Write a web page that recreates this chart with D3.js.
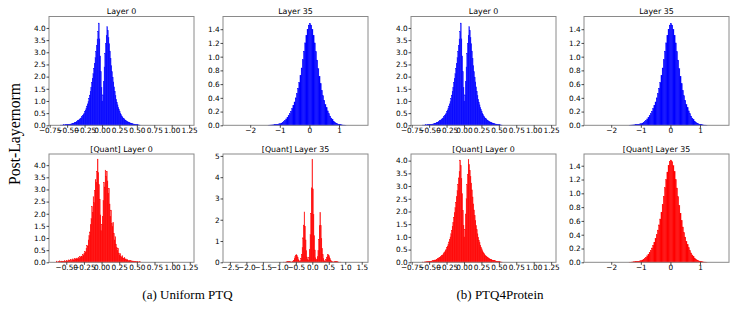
<!DOCTYPE html>
<html>
<head>
<meta charset="utf-8">
<title>Post-Layernorm histograms</title>
<script src="https://d3js.org/d3.v7.min.js"></script>
<style>
  body { margin: 0; background: #fff; }
  svg text { font-family: "DejaVu Sans", sans-serif; }
</style>
</head>
<body>
<svg width="747" height="309"></svg>
<script>

// histogram heights, one value per bin, bins start at *Start with width *Step
var fpLayer0Start = -0.60, fpLayer0Step = 0.01;
var fpLayer0 = [
  0.01, 0.00, 0.01, 0.01, 0.01, 0.02, 0.01, 0.02, 0.02, 0.03,
  0.02, 0.03, 0.04, 0.04, 0.05, 0.05, 0.06, 0.07, 0.08, 0.09,
  0.10, 0.12, 0.13, 0.15, 0.17, 0.19, 0.21, 0.23, 0.26, 0.29,
  0.32, 0.36, 0.40, 0.45, 0.50, 0.56, 0.63, 0.71, 0.79, 0.88,
  0.98, 1.10, 1.24, 1.40, 1.57, 1.75, 1.93, 2.12, 2.33, 2.55,
  2.78, 3.02, 3.28, 3.55, 3.85, 4.20, 3.55, 2.85, 2.20, 1.55,
  1.00, 1.25, 1.80, 2.40, 2.95, 3.35, 3.70, 4.05, 3.90, 3.60,
  3.35, 3.05, 2.75, 2.45, 2.20, 1.98, 1.78, 1.58, 1.40, 1.22,
  1.07, 0.95, 0.84, 0.74, 0.65, 0.57, 0.50, 0.44, 0.38, 0.34,
  0.30, 0.27, 0.24, 0.21, 0.19, 0.17, 0.15, 0.14, 0.13, 0.11,
  0.10, 0.09, 0.08, 0.07, 0.06, 0.05, 0.05, 0.04, 0.03, 0.03,
  0.02, 0.02, 0.01, 0.01, 0.01
];

var fpLayer35Start = -1.40, fpLayer35Step = 0.04;
var fpLayer35 = [
  0.002, 0.003, 0.004, 0.005, 0.006, 0.008, 0.010, 0.012, 0.015, 0.020,
  0.025, 0.033, 0.043, 0.056, 0.072, 0.092, 0.115, 0.140, 0.170, 0.205,
  0.245, 0.290, 0.340, 0.400, 0.465, 0.540, 0.625, 0.725, 0.835, 0.955,
  1.080, 1.200, 1.310, 1.400, 1.460, 1.485, 1.460, 1.400, 1.310, 1.200,
  1.075, 0.950, 0.825, 0.710, 0.605, 0.510, 0.430, 0.365, 0.305, 0.255,
  0.210, 0.170, 0.135, 0.105, 0.080, 0.060, 0.045, 0.033, 0.024, 0.017,
  0.012, 0.008, 0.006, 0.004, 0.003, 0.002
];

var uniformQ0Start = -0.65, uniformQ0Step = 0.01;
var uniformQ0 = [
  0.00, 0.05, 0.00, 0.00, 0.03, 0.06, 0.00, 0.02, 0.05, 0.03,
  0.04, 0.02, 0.07, 0.03, 0.05, 0.08, 0.04, 0.06, 0.10, 0.05,
  0.08, 0.12, 0.06, 0.10, 0.14, 0.09, 0.12, 0.16, 0.11, 0.15,
  0.18, 0.13, 0.20, 0.17, 0.24, 0.19, 0.26, 0.23, 0.32, 0.28,
  0.38, 0.45, 0.42, 0.58, 0.70, 0.66, 0.92, 1.10, 1.25, 1.55,
  1.80, 2.30, 2.05, 2.70, 2.45, 2.95, 3.40, 3.30, 3.75, 4.25,
  3.70, 3.20, 2.60, 1.95, 1.30, 1.55, 1.90, 2.55, 3.30, 3.10,
  3.80, 3.55, 3.75, 3.35, 2.85, 3.05, 2.40, 1.90, 2.15, 1.60,
  1.47, 1.65, 1.20, 0.92, 1.05, 0.75, 0.60, 0.50, 0.58, 0.38,
  0.30, 0.36, 0.25, 0.20, 0.27, 0.18, 0.15, 0.20, 0.12, 0.14,
  0.10, 0.12, 0.08, 0.06, 0.09, 0.05, 0.07, 0.04, 0.06, 0.03,
  0.05, 0.02, 0.04, 0.03, 0.02, 0.01, 0.03, 0.01, 0.00, 0.02
];

var uniformQ35Start = -0.91, uniformQ35Step = 0.02;
var uniformQ35 = [
  0.00, 0.00, 0.01, 0.00, 0.01, 0.01, 0.02, 0.03, 0.04, 0.05,
  0.04, 0.03, 0.02, 0.01, 0.02, 0.03, 0.06, 0.10, 0.18, 0.27,
  0.34, 0.37, 0.31, 0.22, 0.13, 0.07, 0.05, 0.08, 0.18, 0.38,
  0.70, 1.15, 1.75, 2.37, 1.70, 1.05, 0.55, 0.25, 0.12, 0.10,
  0.22, 0.60, 1.30, 2.30, 3.50, 4.85, 3.45, 2.25, 1.25, 0.58,
  0.21, 0.10, 0.12, 0.26, 0.56, 1.08, 1.72, 2.35, 1.72, 1.12,
  0.66, 0.36, 0.17, 0.08, 0.05, 0.07, 0.13, 0.22, 0.31, 0.37,
  0.33, 0.26, 0.17, 0.10, 0.06, 0.03, 0.02, 0.01, 0.02, 0.03,
  0.04, 0.05, 0.04, 0.03, 0.02, 0.01, 0.01, 0.00, 0.01, 0.00,
  0.00
];

var ptq4pQ0Start = -0.60, ptq4pQ0Step = 0.01;
var ptq4pQ0 = [
  0.01, 0.01, 0.00, 0.01, 0.02, 0.01, 0.02, 0.01, 0.02, 0.03,
  0.03, 0.03, 0.04, 0.05, 0.04, 0.06, 0.06, 0.07, 0.09, 0.09,
  0.11, 0.12, 0.14, 0.15, 0.18, 0.19, 0.22, 0.24, 0.27, 0.29,
  0.33, 0.37, 0.41, 0.46, 0.51, 0.57, 0.64, 0.72, 0.80, 0.90,
  1.00, 1.12, 1.26, 1.42, 1.58, 1.77, 1.95, 2.15, 2.36, 2.58,
  2.82, 3.06, 3.32, 3.58, 4.02, 3.80, 3.30, 2.70, 2.05, 1.45,
  1.00, 1.30, 1.90, 2.50, 3.05, 3.45, 4.05, 3.85, 3.62, 3.38,
  3.12, 2.85, 2.57, 2.30, 2.06, 1.84, 1.64, 1.45, 1.28, 1.12,
  0.99, 0.87, 0.77, 0.68, 0.60, 0.53, 0.46, 0.41, 0.36, 0.32,
  0.28, 0.25, 0.22, 0.20, 0.18, 0.16, 0.14, 0.13, 0.12, 0.10,
  0.09, 0.08, 0.08, 0.07, 0.06, 0.05, 0.04, 0.04, 0.03, 0.03,
  0.02, 0.02, 0.01, 0.01, 0.01
];

var ptq4pQ35Start = -1.40, ptq4pQ35Step = 0.04;
var ptq4pQ35 = [
  0.002, 0.002, 0.004, 0.005, 0.007, 0.008, 0.010, 0.013, 0.016, 0.020,
  0.026, 0.034, 0.044, 0.057, 0.073, 0.093, 0.117, 0.142, 0.172, 0.207,
  0.247, 0.292, 0.343, 0.402, 0.467, 0.542, 0.627, 0.727, 0.838, 0.957,
  1.082, 1.198, 1.308, 1.402, 1.462, 1.482, 1.458, 1.402, 1.312, 1.198,
  1.077, 0.952, 0.826, 0.712, 0.606, 0.512, 0.432, 0.366, 0.306, 0.256,
  0.211, 0.171, 0.136, 0.106, 0.081, 0.061, 0.046, 0.034, 0.025, 0.018,
  0.012, 0.009, 0.006, 0.004, 0.003, 0.002
];

// tick values
var layer0XTicks = [-0.75, -0.5, -0.25, 0, 0.25, 0.5, 0.75, 1, 1.25];
var quantLayer0XTicks = [-0.5, -0.25, 0, 0.25, 0.5, 0.75, 1, 1.25];
var layer35XTicks = [-2, -1, 0, 1];
var quantLayer35XTicks = [-2.5, -2, -1.5, -1, -0.5, 0, 0.5, 1, 1.5];
var layer0YTicks = [0, 0.5, 1, 1.5, 2, 2.5, 3, 3.5, 4];
var layer35YTicks = [0, 0.2, 0.4, 0.6, 0.8, 1, 1.2, 1.4];
var quantLayer35YTicks = [0, 1, 2, 3, 4, 5];

var captions = ["(a) Uniform PTQ", "(b) PTQ4Protein"];

var svg = d3.select("svg");

var topY = [16.5, 125.3], botY = [154, 262.3];

var panels = [
  {title: "Layer 0", start: fpLayer0Start, step: fpLayer0Step, values: fpLayer0, color: "#0000ff",
   x: [49, 194], y: topY, xd: [-0.76, 1.32], yd: [0, 4.47], xt: layer0XTicks, yt: layer0YTicks, xf: ".2f", yf: ".1f"},
  {title: "Layer 35", start: fpLayer35Start, step: fpLayer35Step, values: fpLayer35, color: "#0000ff",
   x: [223, 368], y: topY, xd: [-2.92, 1.98], yd: [0, 1.585], xt: layer35XTicks, yt: layer35YTicks, xf: "d", yf: ".1f"},
  {title: "[Quant] Layer 0", start: uniformQ0Start, step: uniformQ0Step, values: uniformQ0, color: "#ff0000",
   x: [49, 194], y: botY, xd: [-0.745, 1.31], yd: [0, 4.46], xt: quantLayer0XTicks, yt: layer0YTicks, xf: ".2f", yf: ".1f"},
  {title: "[Quant] Layer 35", start: uniformQ35Start, step: uniformQ35Step, values: uniformQ35, color: "#ff0000",
   x: [223, 368], y: botY, xd: [-2.71, 1.69], yd: [0, 5.09], xt: quantLayer35XTicks, yt: quantLayer35YTicks, xf: ".1f", yf: "d"},
  {title: "Layer 0", start: fpLayer0Start, step: fpLayer0Step, values: fpLayer0, color: "#0000ff",
   x: [411, 556], y: topY, xd: [-0.76, 1.32], yd: [0, 4.47], xt: layer0XTicks, yt: layer0YTicks, xf: ".2f", yf: ".1f"},
  {title: "Layer 35", start: fpLayer35Start, step: fpLayer35Step, values: fpLayer35, color: "#0000ff",
   x: [584, 729], y: topY, xd: [-2.92, 1.98], yd: [0, 1.585], xt: layer35XTicks, yt: layer35YTicks, xf: "d", yf: ".1f"},
  {title: "[Quant] Layer 0", start: ptq4pQ0Start, step: ptq4pQ0Step, values: ptq4pQ0, color: "#ff0000",
   x: [411, 556], y: botY, xd: [-0.76, 1.32], yd: [0, 4.26], xt: layer0XTicks, yt: layer0YTicks, xf: ".2f", yf: ".1f"},
  {title: "[Quant] Layer 35", start: ptq4pQ35Start, step: ptq4pQ35Step, values: ptq4pQ35, color: "#ff0000",
   x: [584, 729], y: botY, xd: [-2.92, 1.98], yd: [0, 1.57], xt: layer35XTicks, yt: layer35YTicks, xf: "d", yf: ".1f"}
];

panels.forEach(function(p) {
  var x = d3.scaleLinear().domain(p.xd).range(p.x);
  var y = d3.scaleLinear().domain(p.yd).range([p.y[1], p.y[0]]);
  var g = svg.append("g");

  // bars, thin stroke closes the seams between sub-pixel bins
  g.append("g")
    .selectAll("rect")
    .data(p.values)
    .enter().append("rect")
      .attr("x", function(d, i) { return x(p.start + i * p.step); })
      .attr("width", function(d, i) { return x(p.start + (i + 1) * p.step) - x(p.start + i * p.step); })
      .attr("y", function(d) { return y(d); })
      .attr("height", function(d) { return y(0) - y(d); })
      .attr("fill", p.color)
      .attr("stroke", p.color)
      .attr("stroke-width", 0.35);

  // frame
  g.append("rect")
    .attr("x", p.x[0])
    .attr("y", p.y[0])
    .attr("width", p.x[1] - p.x[0])
    .attr("height", p.y[1] - p.y[0])
    .attr("fill", "none")
    .attr("stroke", "#8a8a8a")
    .attr("stroke-width", 1);

  var xa = g.append("g")
    .attr("transform", "translate(0," + p.y[1] + ")")
    .call(d3.axisBottom(x).tickValues(p.xt).tickFormat(d3.format(p.xf)).tickSize(2.5).tickPadding(0.5));
  var ya = g.append("g")
    .attr("transform", "translate(" + p.x[0] + ",0)")
    .call(d3.axisLeft(y).tickValues(p.yt).tickFormat(d3.format(p.yf)).tickSize(2.5).tickPadding(0.8));
  [xa, ya].forEach(function(a) {
    a.select(".domain").remove();
    a.selectAll("line").attr("stroke", "#000").attr("stroke-width", 0.7);
    a.selectAll("text")
      .attr("fill", "#000")
      .style("font-family", "'DejaVu Sans', sans-serif")
      .style("font-size", "7.3px");
  });

  g.append("text")
    .attr("x", (p.x[0] + p.x[1]) / 2)
    .attr("y", p.y[0] - 2.2)
    .attr("text-anchor", "middle")
    .attr("fill", "#000")
    .style("font-size", "7.9px")
    .text(p.title);
});

svg.append("text")
  .attr("transform", "translate(19.5,134) rotate(-90)")
  .attr("text-anchor", "middle")
  .attr("fill", "#000")
  .style("font-family", "'Liberation Serif', 'Times New Roman', serif")
  .style("font-size", "15.7px")
  .text("Post-Layernorm");

svg.selectAll(".caption")
  .data(captions)
  .enter().append("text")
    .attr("class", "caption")
    .attr("x", function(d, i) { return i == 0 ? 187.5 : 500; })
    .attr("y", 299)
    .attr("text-anchor", "middle")
    .attr("fill", "#000")
    .style("font-family", "'Liberation Serif', 'Times New Roman', serif")
    .style("font-size", "13px")
    .text(function(d) { return d; });

</script>
</body>
</html>
